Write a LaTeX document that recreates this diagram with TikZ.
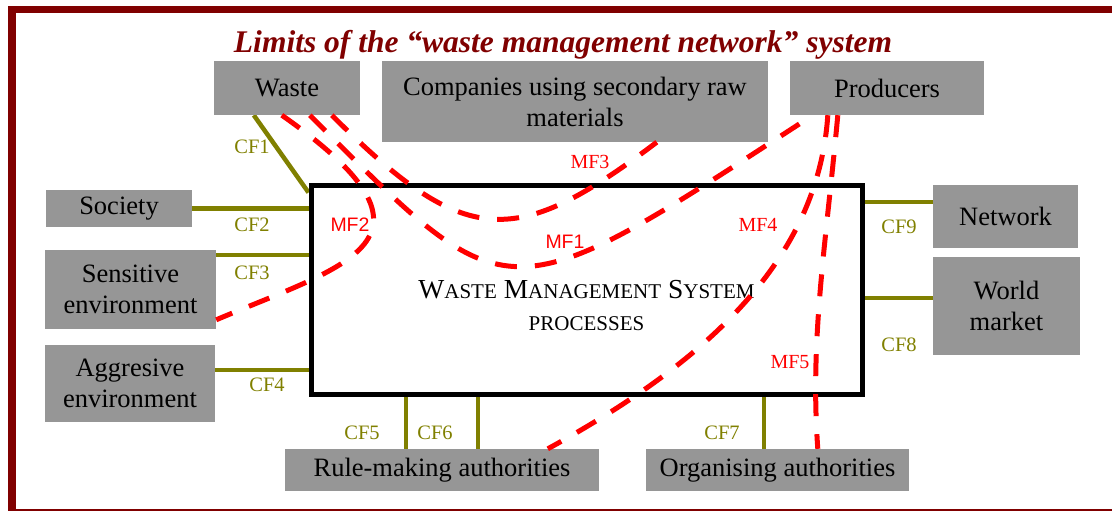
\documentclass[tikz,border=0pt]{standalone}
\usepackage{fontspec}
\setmainfont{Liberation Serif}
\setsansfont{Liberation Sans}
\usetikzlibrary{backgrounds}
\definecolor{framered}{RGB}{128,0,0}
\definecolor{boxgrey}{RGB}{150,150,150}
\definecolor{cfolive}{RGB}{128,128,0}
\definecolor{mfred}{RGB}{255,0,0}
\newcommand{\wmsc}[2]{#1{\fontsize{21}{32}\selectfont #2}}

\begin{document}
\begin{tikzpicture}[
  x=1pt, y=-1pt,
  actor/.style={fill=boxgrey,inner sep=0pt,align=center,font=\fontsize{26.5}{31}\selectfont},
  cf/.style={draw=cfolive,line width=4.5pt},
  mf/.style={draw=mfred,line width=5pt,dash pattern=on 22pt off 18pt},
  cflab/.style={text=cfolive,inner sep=0pt,font=\fontsize{20.5}{22}\selectfont},
  mflab/.style={text=mfred,inner sep=0pt,font=\fontsize{20}{22}\selectfont},
  mfsans/.style={text=mfred,inner sep=0pt,font=\sffamily\fontsize{19.5}{22}\selectfont}
]
\useasboundingbox (0,0) rectangle (1112,511);
\begin{scope}
\clip (0,0) rectangle (1112,511);
\draw[framered,line width=7.5pt] (12,9.5) rectangle (1125,513);
\end{scope}

\node[anchor=base,text=framered,font=\bfseries\itshape\fontsize{31.5}{36}\selectfont] (title) at (563,53)
  {Limits of the “waste management network” system};

\node[actor,minimum width=146pt,minimum height=54pt] (waste) at (287,88) {Waste};
\node[actor,minimum width=386pt,minimum height=81pt] (companies) at (575,101.5) {Companies using secondary raw\\materials};
\node[actor,minimum width=194pt,minimum height=54pt] (producers) at (887,88) {Producers};
\node[actor,minimum width=146pt,minimum height=37pt] (society) at (119,208.5) {Society};
\node[actor,minimum width=171pt,minimum height=79pt] (sensitive) at (130.5,289.5) {Sensitive\\environment};
\node[actor,minimum width=170pt,minimum height=77pt] (aggressive) at (130,383.5) {Aggresive\\environment};
\node[actor,minimum width=145pt,minimum height=63pt] (network) at (1005.5,216.5) {Network};
\node[actor,minimum width=147pt,minimum height=98pt] (worldmarket) at (1006.5,306) {World\\market};
\node[actor,minimum width=314pt,minimum height=42pt] (rulemaking) at (442,470) {Rule-making authorities};
\node[actor,minimum width=263pt,minimum height=42pt] (organising) at (777.5,470) {Organising authorities};

\node[draw,line width=5pt,minimum width=551pt,minimum height=209pt,inner sep=0pt] (wms) at (586.5,289.5) {};
\node[align=center,inner sep=0pt,font=\fontsize{27.5}{32}\selectfont] (wmstext) at (586.5,305)
  {\wmsc{W}{ASTE} \wmsc{M}{ANAGEMENT} \wmsc{S}{YSTEM}\\{\fontsize{21}{32}\selectfont PROCESSES}};

\begin{pgfonlayer}{background}
\draw[cf] ([xshift=40pt]waste.south west) -- ([yshift=-10pt]wms.north west);
\draw[cf] (society.east) -- (society.east -| wms.west);
\draw[cf] ([yshift=-5pt]sensitive.north east) coordinate (cf3) -- (cf3 -| wms.west);
\draw[cf] ([yshift=-25pt]aggressive.north east) coordinate (cf4) -- (cf4 -| wms.west);
\draw[cf] ([xshift=121pt]rulemaking.north west) coordinate (cf5) -- (cf5 |- wms.south);
\draw[cf] ([xshift=193pt]rulemaking.north west) coordinate (cf6) -- (cf6 |- wms.south);
\draw[cf] ([xshift=118pt]organising.north west) coordinate (cf7) -- (cf7 |- wms.south);
\draw[cf] ([yshift=-41pt]worldmarket.north west) coordinate (cf8) -- (cf8 -| wms.east);
\draw[cf] ([yshift=-17pt]network.north west) coordinate (cf9) -- (cf9 -| wms.east);
\end{pgfonlayer}

\draw[mf] ([xshift=96pt]waste.south west) .. controls +(202,202) and +(-311,202) .. ([xshift=23pt]producers.south west);
\draw[mf] ([xshift=68pt]waste.south west) .. controls +(178,125) and +(130,-55) .. ([yshift=-70pt]sensitive.north east);
\draw[mf] ([xshift=118pt]waste.south west) .. controls +(134,134) and +(-142,107) .. ([xshift=275pt]companies.south west);
\draw[mf] ([xshift=38pt]producers.south west) .. controls +(-10,150) and +(150,-82) .. ([xshift=263pt]rulemaking.north west);
\draw[mf] ([xshift=48pt]producers.south west) .. controls +(-12,130) and +(-8,-110) .. ([xshift=172pt]organising.north west);

\node[cflab] (cf1l) at (252,147) {CF1};
\node[cflab] (cf2l) at (252,225) {CF2};
\node[cflab] (cf3l) at (252,273) {CF3};
\node[cflab] (cf4l) at (267,385) {CF4};
\node[cflab] (cf5l) at (362,433) {CF5};
\node[cflab] (cf6l) at (435,433) {CF6};
\node[cflab] (cf7l) at (722,433) {CF7};
\node[cflab] (cf8l) at (899,345) {CF8};
\node[cflab] (cf9l) at (899,227) {CF9};

\node[mfsans] (mf1) at (565,242) {MF1};
\node[mfsans] (mf2) at (350,225) {MF2};
\node[mflab] (mf3) at (590,162) {MF3};
\node[mflab] (mf4) at (758,225) {MF4};
\node[mflab] (mf5) at (790,362) {MF5};
\end{tikzpicture}
\end{document}
